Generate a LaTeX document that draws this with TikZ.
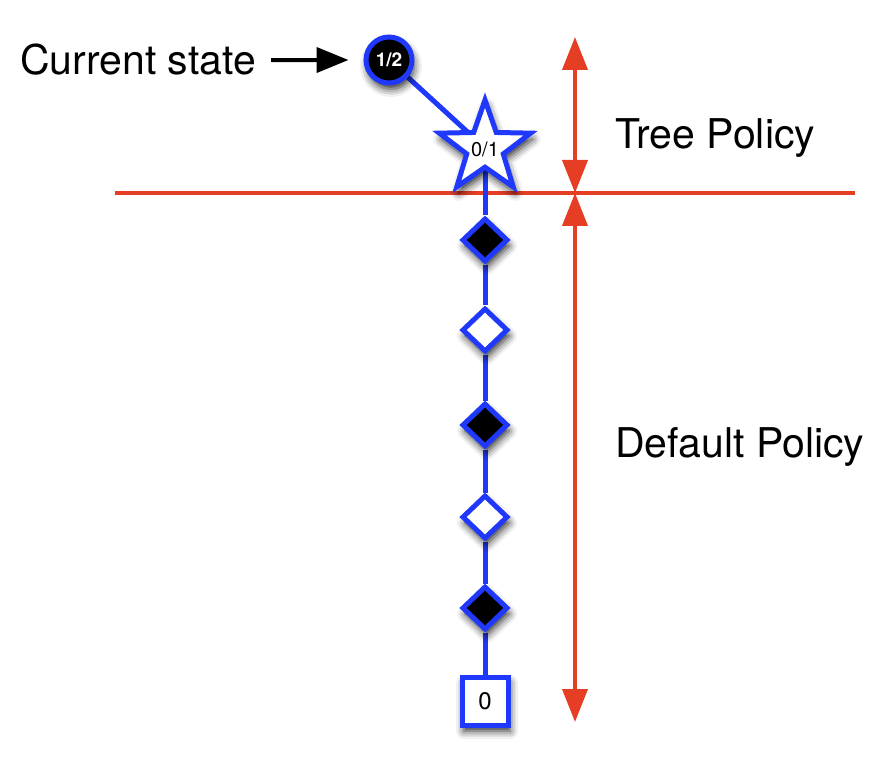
\documentclass[tikz,border=0pt]{standalone}
\usepackage{fontspec}
\setmainfont{TeX Gyre Heros}
\usetikzlibrary{shapes.geometric,arrows.meta,backgrounds,shadows.blur}
\definecolor{nblue}{RGB}{32,56,250}
\definecolor{pred}{RGB}{230,62,36}
\begin{document}
\begin{tikzpicture}[x=1pt,y=-1pt,
  shd/.style={blur shadow={shadow xshift=2pt,shadow yshift=-6pt,shadow blur radius=8pt,shadow opacity=85}},
  nd/.style={draw=nblue,line width=5pt,inner sep=0pt,shd},
  dblack/.style={nd,diamond,fill=black,minimum width=46pt,minimum height=44pt},
  dwhite/.style={nd,diamond,fill=white,minimum width=46pt,minimum height=44pt},
  conn/.style={draw=nblue,line width=5pt},
  redarrow/.style={draw=pred,line width=4pt,{Triangle[length=33pt,width=25pt]}-{Triangle[length=33pt,width=25pt]}},
  lbl/.style={font=\fontsize{41}{48}\selectfont,inner sep=0pt,anchor=base west}
]
\useasboundingbox (0,0) rectangle (895,765);

% nodes
\node[lbl] (cur) at (20,75) {Current state};
\node[nd,circle,fill=black,minimum size=46pt,text=white,font=\bfseries\fontsize{19}{22}\selectfont] (c) at (389,60) {1/2};
\node[nd,star,star points=5,star point ratio=2.5,minimum size=96pt,fill=white] (s) at (485,148) {};
\node[font=\fontsize{20}{24}\selectfont,inner sep=0pt] (st) at (485,149) {0/1};
\node[dblack] (d1) at (485,240) {};
\node[dwhite] (d2) at (485,330) {};
\node[dblack] (d3) at (485,425) {};
\node[dwhite] (d4) at (485,517) {};
\node[dblack] (d5) at (485,608) {};
\node[nd,rectangle,fill=white,minimum width=46pt,minimum height=48pt,font=\fontsize{24}{28}\selectfont] (sq) at (485,701) {0};

\node[lbl] (tp) at (615,149) {Tree Policy};
\node[lbl] (dp) at (615,457) {Default Policy};

% red guides
\coordinate (hl) at (115,193);
\coordinate (hr) at (855,193);
\coordinate (at) at (575,37);
\coordinate (am) at (575,193);
\coordinate (ab) at (575,722);

\begin{pgfonlayer}{background}
  \draw[draw=pred,line width=4pt] (hl) -- (hr);
  \draw[conn] (c) -- (s.center);
  \draw[conn] (s.center) -- (d1) -- (d2) -- (d3) -- (d4) -- (d5) -- (sq);
\end{pgfonlayer}

\draw[redarrow] (at) -- (am);
\draw[redarrow] (am) -- (ab);

\draw[line width=4pt,-{Triangle[length=32pt,width=25pt]},shorten <=15pt,shorten >=15pt] (cur) -- (c);
\end{tikzpicture}
\end{document}
